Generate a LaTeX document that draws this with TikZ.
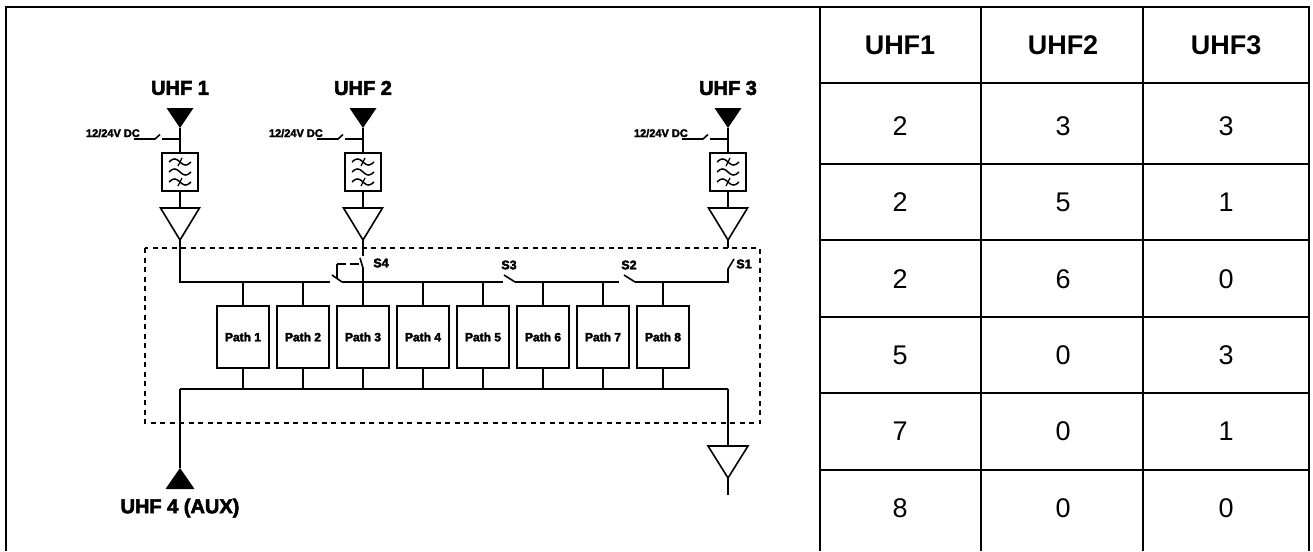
\documentclass[tikz,border=0pt]{standalone}
\usepackage{fontspec}
\setmainfont{Liberation Sans}
\newfontfamily\heavyfont[FakeBold=3]{Liberation Sans Bold}
\usetikzlibrary{positioning}

\tikzset{
  wire/.style={line width=1.6pt},
  frame/.style={line width=2pt},
  dashbox/.style={line width=1.7pt, dash pattern=on 5pt off 4.5pt},
  pathbox/.style={draw, wire, minimum width=52pt, minimum height=62pt, inner sep=0pt,
    font=\fontsize{12}{12}\selectfont\heavyfont},
  filt/.style={draw, wire, minimum width=36pt, minimum height=38pt, inner sep=0pt},
  biglabel/.style={inner sep=0pt, font=\fontsize{20}{20}\selectfont\heavyfont},
  dclabel/.style={inner sep=0pt, font=\fontsize{11}{11}\selectfont\heavyfont},
  swlabel/.style={inner sep=0pt, font=\fontsize{12.5}{12.5}\selectfont\heavyfont},
  headcell/.style={inner sep=0pt, font=\fontsize{27}{27}\selectfont\bfseries},
  cell/.style={inner sep=0pt, font=\fontsize{27}{27}\selectfont},
}

% one input: antenna, DC feed switch, filter, amplifier
\newcommand{\feedchain}[3]{%
  \node[biglabel] (#1-lab) at (#2,88) {#3};
  \coordinate (#1-ant) at (#2,128);
  \fill (#1-ant) -- ++(-13.5,-20) -- ++(27,0) -- cycle;
  \coordinate (#1-dc) at (#2,139);
  \node[dclabel, anchor=base east] (#1-dctext) at ({#2-40},137) {12/24V DC};
  \coordinate (#1-dcin) at ({#2-46},139);
  \draw[wire] (#1-dcin) -- ++(21,0) -- ++(5,-4.5);
  \draw[wire] ({#2-18},139) -- (#1-dc);
  \node[filt] (#1-filt) at (#2,172) {};
  \foreach \dy in {-10,0,10}
    \draw[line width=1.5pt, shift={(#1-filt.center)}, domain=-11:11, samples=25]
      plot (\x, {3*sin(16.4*\x)+\dy});
  \draw[line width=1.3pt, shift={(#1-filt.center)}] (-2,-6) -- (2,-14) (-2,14) -- (2,6);
  \coordinate (#1-amp) at (#2,208);
  \coordinate (#1-out) at (#2,240);
  \draw[wire] (#1-amp) ++(-19.5,0) -- ++(39,0) -- (#1-out) -- cycle;
  \draw[wire] (#1-ant) -- (#1-filt.north);
  \draw[wire] (#1-filt.south) -- (#1-amp);
}

\begin{document}
\begin{tikzpicture}[x=1pt, y=-1pt]
\useasboundingbox (0,0) rectangle (1313,551);

% outer frame and table grid
\draw[frame] (6,551) -- (6,7) -- (1309,7) -- (1309,551);
\foreach \cx in {820,981,1143}
  \draw[frame] (\cx,7) -- (\cx,551);
\foreach \ry in {83,164,240,317,393,470}
  \draw[frame] (820,\ry) -- (1309,\ry);

\foreach \t [count=\c] in {UHF1,UHF2,UHF3}
  \node[headcell] (h\c) at ({900+163*(\c-1)},45) {\t};
\foreach \a/\b/\c [count=\r] in {2/3/3, 2/5/1, 2/6/0, 5/0/3, 7/0/1, 8/0/0} {
  \node[cell] (r\r-1) at (900,{126+76.4*(\r-1)}) {\a};
  \node[cell] (r\r-2) at (1063,{126+76.4*(\r-1)}) {\b};
  \node[cell] (r\r-3) at (1226,{126+76.4*(\r-1)}) {\c};
}

% inputs
\feedchain{u1}{180}{UHF 1}
\feedchain{u2}{363}{UHF 2}
\feedchain{u3}{728}{UHF 3}

% switch unit
\draw[dashbox] (145,248) rectangle (760,423);

\foreach \i in {1,...,8}
  \node[pathbox] (p\i) at ({243+60*(\i-1)},337) {Path \i};

\coordinate (topbus) at (180,282);
\coordinate (botbus) at (180,389);

% top bus with switches S4..S1
\coordinate (s4l) at (330,282);
\coordinate (s4r) at (342,282);
\coordinate (s3l) at (503,282);
\coordinate (s3r) at (515,282);
\coordinate (s2l) at (619,282);
\coordinate (s2r) at (635,282);
\coordinate (s1lo) at (728,269);
\coordinate (s1up) at (728,248);
\coordinate (s4up) at (363,256);
\coordinate (s4lo) at (363,268);

\draw[wire] (u1-out) -- (topbus) -- (s4l);
\draw[wire] (s4r) -- ++(-10,-7);
\draw[wire] (s4r) -- (s3l);
\draw[wire] (s3r) -- ++(-11,-7);
\draw[wire] (s3r) -- (s2l);
\draw[wire] (s2r) -- ++(-11,-7);
\draw[wire] (s2r) -- (s2r -| s1lo) -- (s1lo) -- ++(6,-10);
\draw[wire] (u3-out) -- (s1up);
\draw[wire] (u2-out) -- (s4up);
\draw[wire] (s4lo) -- ++(-3,-10);
\draw[wire] (s4lo) -- (p3.north);
\draw[wire] (337,278) -- (337,264);
\draw[wire, dash pattern=on 9pt off 4pt] (337,264) -- (361,264);

\node[swlabel] (s4) at (381,263) {S4};
\node[swlabel] (s3) at (509,265) {S3};
\node[swlabel] (s2) at (629,265) {S2};
\node[swlabel] (s1) at (744,264) {S1};

\foreach \i in {1,2,4,5,6,7,8}
  \draw[wire] (p\i.north) -- (p\i.north |- topbus);
\foreach \i in {1,...,8}
  \draw[wire] (p\i.south) -- (p\i.south |- botbus);

% outputs
\coordinate (botright) at (728,389);
\draw[wire] (botbus) -- (botright);
\coordinate (aux) at (180,468);
\draw[wire] (botbus) -- (aux);
\fill (aux) -- ++(-14.5,21) -- ++(29,0) -- cycle;
\node[biglabel] (auxlab) at (180,508) {UHF 4 (AUX)};

\coordinate (amp4) at (728,446);
\coordinate (amp4out) at (728,478);
\draw[wire] (botright) -- (amp4);
\draw[wire] (amp4) ++(-20,0) -- ++(40,0) -- (amp4out) -- cycle;
\draw[wire] (amp4out) -- ++(0,17);
\end{tikzpicture}
\end{document}
